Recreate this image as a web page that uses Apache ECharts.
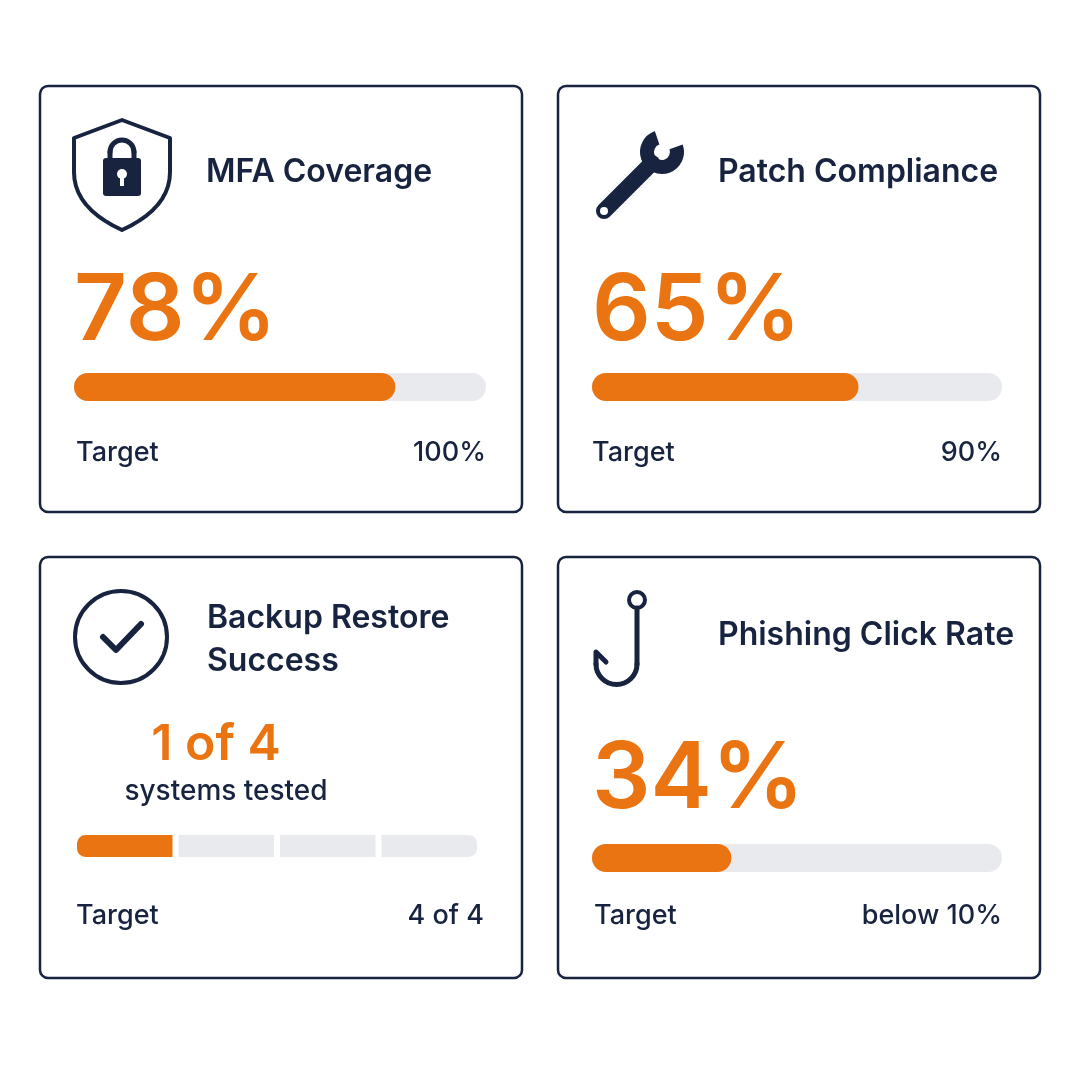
<!DOCTYPE html>
<html><head><meta charset="utf-8">
<script src="https://cdn.jsdelivr.net/npm/echarts@6/dist/echarts.min.js"></script>
<style>html,body{margin:0;padding:0;background:#fff}#c{width:1080px;height:1080px}</style>
</head><body><div id="c"></div>
<script>
const titles = ['MFA Coverage', 'Patch Compliance', 'Backup Restore\nSuccess', 'Phishing Click Rate'];
const percentValues = [78, 65, 34];          // MFA, Patch, Phishing
const percentLabels = ['78%', '65%', '34%'];
const backupTested = 1, backupTotal = 4;
const targetLabels = ['100%', '90%', '4 of 4', 'below 10%'];

const NAVY = '#17233f', ORANGE = '#ea7412', TRACK = '#e9eaee';
const FONT = 'Inter, Roboto, sans-serif';
const chart = echarts.init(document.getElementById('c'), null, {renderer: 'canvas'});

const cards = [[40,86],[558,86],[40,557],[558,557]];
const g = [];
cards.forEach(([x,y]) => g.push({type:'rect', shape:{x, y, width:482, height:y<300?426:421, r:8},
  style:{fill:'#fff', stroke:NAVY, lineWidth:2.5}}));

function txt(x,y,t,size,color,weight,align){ g.push({type:'text', x, y, style:{text:t, font:`${weight} ${size}px ${FONT}`, fill:color, textAlign:align||'left', textVerticalAlign:'middle', lineHeight:size*1.35}}); }
txt(206,172,titles[0],32,NAVY,600);
txt(718,172,titles[1],32,NAVY,600);
txt(207,640,titles[2],32,NAVY,600);
txt(718,635,titles[3],32,NAVY,600);
txt(74,312,percentLabels[0],92,ORANGE,600);
txt(592,312,percentLabels[1],92,ORANGE,600);
txt(592,780,percentLabels[2],92,ORANGE,600);
txt(216,745,`${backupTested} of ${backupTotal}`,50,ORANGE,600,'center');
txt(226,792,'systems tested',28,NAVY,500,'center');
[[76,453,486,0],[592,453,1002,1],[76,916,484,2],[594,916,1002,3]].forEach(([x,y,rx,i])=>{
  txt(x,y,'Target',27,NAVY,500); txt(rx,y,targetLabels[i],27,NAVY,500,'right');
});

// Icons (decorative shapes)
const S = {stroke:NAVY, fill:'none', lineWidth:4, lineCap:'round', lineJoin:'round'};
function shieldPts(cx, top, w, h){
  const p=[[cx,top],[cx+w,top+18],[cx+w,top+52]];
  for(let t=0;t<=1.0001;t+=0.1){ const a=(1-t)*(1-t), b=2*(1-t)*t, c=t*t;
    p.push([a*(cx+w)+b*(cx+w)+c*cx, a*(top+52)+b*(top+88)+c*(top+h)]); }
  for(let t=0.1;t<=1.0001;t+=0.1){ const a=(1-t)*(1-t), b=2*(1-t)*t, c=t*t;
    p.push([a*cx+b*(cx-w)+c*(cx-w), a*(top+h)+b*(top+88)+c*(top+52)]); }
  p.push([cx-w,top+18]); return p;
}
g.push({type:'polygon', shape:{points:shieldPts(122,120,48,110)}, style:S});
g.push({type:'arc', shape:{cx:122,cy:152,r:12,startAngle:Math.PI,endAngle:0}, style:{...S,lineWidth:5}});
g.push({type:'line', shape:{x1:110,y1:152,x2:110,y2:160}, style:{...S,lineWidth:5}});
g.push({type:'line', shape:{x1:134,y1:152,x2:134,y2:160}, style:{...S,lineWidth:5}});
g.push({type:'rect', shape:{x:103,y:158,width:38,height:38,r:3}, style:{fill:NAVY}});
g.push({type:'circle', shape:{cx:122,cy:174,r:5}, style:{fill:'#fff'}});
g.push({type:'rect', shape:{x:120,y:174,width:4,height:12}, style:{fill:'#fff'}});
// wrench
g.push({type:'line', shape:{x1:604,y1:211,x2:652,y2:163}, style:{stroke:NAVY, lineWidth:16, lineCap:'round'}});
g.push({type:'arc', shape:{cx:662,cy:152,r:15,startAngle:-0.35,endAngle:-1.9,clockwise:true}, style:{stroke:NAVY, fill:'none', lineWidth:14}});
g.push({type:'circle', shape:{cx:604,cy:211,r:4}, style:{fill:'#fff'}});
// check circle
g.push({type:'circle', shape:{cx:121,cy:637,r:46}, style:S});
g.push({type:'polyline', shape:{points:[[103,637],[116,650],[141,624]]}, style:{...S, lineWidth:6}});
// hook
g.push({type:'circle', shape:{cx:637,cy:600,r:8}, style:S});
g.push({type:'line', shape:{x1:637,y1:608,x2:637,y2:664}, style:{...S,lineWidth:5}});
g.push({type:'arc', shape:{cx:616.5,cy:664,r:20.5,startAngle:0,endAngle:Math.PI,clockwise:true}, style:{...S,lineWidth:5}});
g.push({type:'polyline', shape:{points:[[596,664],[596,652],[606,662]]}, style:{...S,lineWidth:5}});

function grid(left, top, width){ return {left, top, width, height:28}; }
const grids = [grid(74,373,412), grid(592,373,410), grid(74,832,406), grid(592,844,410)];
const xAxes = grids.map((_,i)=>({gridIndex:i, type:'value', min:0, max:i===2?backupTotal:100, show:false}));
const yAxes = grids.map((_,i)=>({gridIndex:i, type:'category', data:['v'], show:false}));
const series = [];
[0,1,3].forEach((gi,k)=>series.push({type:'bar', xAxisIndex:gi, yAxisIndex:gi, data:[percentValues[k]], barWidth:28,
  showBackground:true, backgroundStyle:{color:TRACK, borderRadius:14}, itemStyle:{color:ORANGE, borderRadius:14}, silent:true}));
for(let s=0;s<backupTotal;s++){
  const r = s===0?[10,0,0,10]:(s===backupTotal-1?[0,10,10,0]:0);
  series.push({type:'bar', stack:'b', xAxisIndex:2, yAxisIndex:2, data:[1], barWidth:28,
    itemStyle:{color:s<backupTested?ORANGE:TRACK, borderColor:'#fff', borderWidth:3, borderRadius:r}, silent:true});
}
chart.setOption({animation:false, backgroundColor:'#fff', graphic:{elements:g}, grid:grids, xAxis:xAxes, yAxis:yAxes, series});
</script></body></html>
